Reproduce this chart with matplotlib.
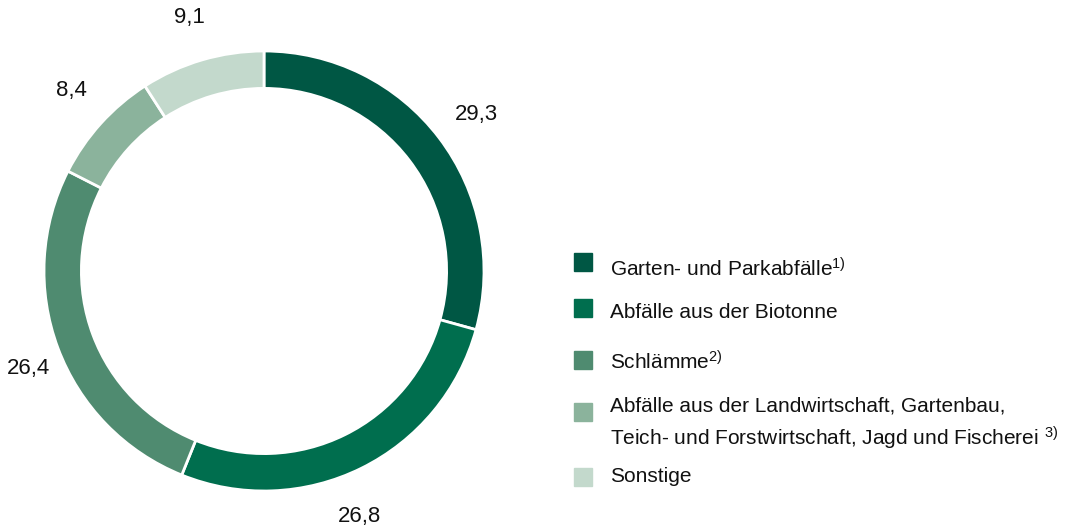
import numpy as np
import matplotlib.pyplot as plt
from matplotlib.patches import Rectangle

plt.rcParams['font.family'] = ['Liberation Sans', 'DejaVu Sans']
plt.rcParams['mathtext.fontset'] = 'custom'
plt.rcParams['mathtext.rm'] = 'Liberation Sans'
plt.rcParams['mathtext.default'] = 'regular'

# Anteile in Prozent
werte = [29.3, 26.8, 26.4, 8.4, 9.1]
beschriftung = ['29,3', '26,8', '26,4', '8,4', '9,1']
kategorien = [
    'Garten- und Parkabfälle$^{1)}$',
    'Abfälle aus der Biotonne',
    'Schlämme$^{2)}$',
    'Abfälle aus der Landwirtschaft, Gartenbau,\nTeich- und Forstwirtschaft, Jagd und Fischerei $^{3)}$',
    'Sonstige',
]
farben = ['#005744', '#006e4e', '#4f8b70', '#8bb39c', '#c3d9cc']

W, H = 1072, 531
fig = plt.figure(figsize=(W / 100, H / 100), dpi=100)

# Ring: Mitte bei (264, 271) px, Radius 220 px
cx, cy, r, pad = 264, 271, 220, 262
ax = fig.add_axes([(cx - pad) / W, (H - cy - pad) / H, 2 * pad / W, 2 * pad / H])
keile, _ = ax.pie(werte, colors=farben, startangle=90, counterclock=False, radius=1,
                  wedgeprops={'width': 0.17, 'edgecolor': 'white', 'linewidth': 2})

# Werte aussen am Ring
abstand = [1.2, 1.2, 1.16, 1.2, 1.2]
drehung = [-1, -5, 2, -1, 0]  # kleine Korrektur in Grad
for keil, txt, d, dw in zip(keile, beschriftung, abstand, drehung):
    winkel = np.deg2rad((keil.theta1 + keil.theta2) / 2 + dw)
    ax.text(d * np.cos(winkel), d * np.sin(winkel), txt, fontsize=16,
            ha='center', va='center', color='#111111')

ax.set_xlim(-pad / r, pad / r)
ax.set_ylim(-pad / r, pad / r)
ax.set_aspect('equal')
ax.axis('off')

# Legende von Hand, Zeilenabstaende wie im Original
kasten_y = [262, 308, 360, 412, 477]
text_y = [269, 312, 362, 424, 477]
for farbe, name, ky, ty in zip(farben, kategorien, kasten_y, text_y):
    fig.patches.append(Rectangle((574 / W, (H - ky - 9) / H), 18 / W, 18 / H,
                                 transform=fig.transFigure, color=farbe))
    fig.text(610 / W, (H - ty) / H, name, fontsize=15, va='center', ha='left',
             color='#111111', linespacing=1.45)

fig.savefig('out.png', dpi=100)
